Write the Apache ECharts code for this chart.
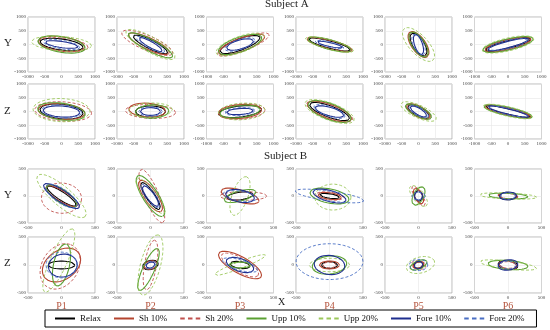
<!DOCTYPE html>
<html><head><meta charset="utf-8">
<script src="https://cdn.jsdelivr.net/npm/echarts@6/dist/echarts.min.js"></script>
<style>html,body{margin:0;padding:0;background:#fff}#c{width:550px;height:330px}</style>
</head><body><div id="c"></div>
<script>
// Ellipse parameters per panel: [cx, cy, semiMajor, semiMinor, angleDeg]
// Panel order: Subject A Y (P1..P6), Subject A Z (P1..P6), Subject B Y (P1..P6), Subject B Z (P1..P6)
const seriesNames = ['Relax','Sh 10%','Sh 20%','Upp 10%','Upp 20%','Fore 10%','Fore 20%'];
const panelLabels = ['P1','P2','P3','P4','P5','P6'];
const rowLabels = ['Y','Z','Y','Z'];
const ticksA = [-1000,-500,0,500,1000];
const ticksB = [-500,0,500];

const relax = [
 [0,0,650,200,-10],[0,0,600,150,-32],[0,0,650,200,25],[0,0,650,130,-18],[0,0,450,180,-65],[0,0,700,140,17],
 [0,0,650,260,-8],[0,0,450,200,0],[0,0,650,200,8],[0,0,650,200,-25],[0,0,380,150,-35],[0,0,700,100,-16],
 [0,0,280,70,-40],[0,0,280,70,-62],[0,0,200,70,10],[0,0,150,40,-10],[0,0,100,60,90],[0,0,130,70,0],
 [0,0,200,70,0],[0,0,120,80,20],[0,0,150,60,-10],[0,0,120,60,0],[0,0,80,60,0],[0,0,150,80,-10]
];
const sh10 = [
 [0,20,700,260,-10],[-50,30,700,200,-30],[50,0,750,230,25],[0,0,700,160,-18],[0,0,520,220,-62],[0,0,720,180,17],
 [0,0,700,280,-6],[-100,50,550,250,-5],[0,0,650,250,6],[0,0,720,250,-25],[0,0,420,180,-35],[0,0,720,130,-16],
 [0,0,300,90,-38],[0,0,330,100,-62],[0,0,300,110,-20],[0,0,180,60,-10],[0,0,150,60,-70],[0,0,150,50,-5],
 [0,0,340,240,50],[0,0,100,70,20],[0,0,380,140,-35],[0,0,150,70,0],[0,0,90,50,30],[0,0,140,70,-15]
];
const sh20 = [
 [50,0,750,230,-8],[-100,60,850,260,-28],[100,0,850,220,26],[0,0,720,140,-17],[0,0,480,200,-65],[0,0,650,160,15],
 [50,0,850,350,-5],[0,0,750,250,-3],[50,0,700,280,6],[0,0,750,230,-24],[0,0,400,160,-33],[0,0,650,120,-15],
 [0,-40,300,280,-10],[20,0,520,110,-72],[50,0,350,80,0],[0,0,210,70,-8],[0,0,200,60,-65],[0,0,120,60,0],
 [-20,-25,420,280,70],[0,0,450,90,82],[0,0,330,120,-35],[0,0,100,50,0],[0,0,110,70,-20],[0,0,130,60,0]
];
const upp10 = [
 [0,0,720,280,-12],[0,-30,780,200,-33],[0,0,700,260,24],[0,0,680,170,-19],[0,0,500,200,-63],[0,0,780,200,16],
 [0,0,720,300,-10],[50,0,500,240,3],[0,0,600,220,8],[0,0,700,280,-26],[0,0,450,170,-32],[0,0,750,150,-15],
 [0,0,290,110,-42],[0,0,420,120,-64],[0,0,250,90,20],[0,0,300,130,-15],[0,0,180,80,70],[0,0,300,50,-3],
 [0,0,380,120,80],[-30,-80,400,90,70],[0,0,170,50,0],[0,0,260,160,10],[0,0,140,70,30],[0,0,300,80,-5]
];
const upp20 = [
 [0,30,900,260,-5],[0,0,880,260,-35],[0,0,780,280,25],[0,0,750,170,-18],[0,0,720,300,-55],[0,0,800,230,16],
 [0,50,850,420,-3],[0,50,650,260,2],[50,0,700,300,5],[0,0,800,300,-25],[0,0,600,220,-30],[0,0,760,170,-16],
 [0,0,520,160,-48],[0,0,380,100,-58],[0,0,370,120,75],[50,-20,270,240,0],[0,0,220,90,-60],[0,0,430,55,-3],
 [-40,80,600,130,70],[0,0,550,150,78],[0,0,420,60,25],[0,0,300,120,0],[30,0,220,140,20],[0,0,430,70,-8]
];
const fore10 = [
 [0,0,500,110,-10],[0,0,420,100,-35],[0,0,420,160,20],[0,0,400,70,-15],[0,0,380,120,-75],[0,0,650,110,18],
 [0,0,550,200,-5],[0,0,300,140,0],[0,0,400,110,5],[0,0,450,150,-20],[0,0,300,110,-38],[0,0,650,90,-17],
 [0,0,340,100,-40],[0,0,220,60,-60],[0,0,220,110,-15],[0,0,260,100,-20],[0,0,80,60,90],[0,0,130,70,5],
 [20,-10,220,200,30],[0,0,70,50,30],[0,0,220,110,-25],[0,0,230,170,-10],[0,0,70,60,60],[0,0,150,90,10]
];
const fore20 = [
 [0,0,560,150,-12],[0,0,500,140,-33],[0,0,480,180,22],[0,0,450,90,-16],[0,0,400,160,-70],[0,0,600,150,15],
 [0,0,600,240,-4],[0,0,350,170,0],[0,0,450,140,5],[0,0,500,180,-22],[0,0,350,140,-35],[0,0,600,120,-15],
 [0,0,300,120,-42],[0,0,250,80,-60],[0,0,260,90,-10],[0,0,520,90,-10],[0,0,100,70,0],[0,0,110,60,0],
 [0,0,230,230,0],[0,0,90,60,30],[0,0,280,90,-20],[0,60,500,320,0],[0,0,140,100,0],[0,0,120,70,0]
];

const seriesData = [relax, sh10, sh20, upp10, upp20, fore10, fore20];
const colors = ['#000000','#b5452f','#c0504d','#5aa032','#9bc75a','#1f2f8f','#4a6fc4'];
const dashed = [false,false,true,false,true,false,true];

const FONT = 'Liberation Serif';
const lefts = [28,117,206.5,296,385,474.5];
const PW = 67;
const tops = [17,84,169,237];
const heights = [55,55,54,56];

function ellipse(p){
  const [cx,cy,a,b,ang] = p;
  const th = ang*Math.PI/180, pts=[];
  for(let i=0;i<=72;i++){
    const t = i*5*Math.PI/180;
    pts.push([cx + a*Math.cos(th)*Math.cos(t) - b*Math.sin(th)*Math.sin(t),
              cy + a*Math.sin(th)*Math.cos(t) + b*Math.cos(th)*Math.sin(t)]);
  }
  return pts;
}

const grids=[], xAxes=[], yAxes=[], series=[];
for(let r=0;r<4;r++){
  const isA = r<2;
  const lim = isA?1000:500;
  for(let c=0;c<6;c++){
    const gi = r*6+c;
    grids.push({left:lefts[c], top:tops[r], width:PW, height:heights[r], show:true,
      borderColor:'#a8a8a8', borderWidth:0.8, containLabel:false});
    const lab = {fontSize:5, margin:2, color:'#444', fontFamily:FONT, formatter:v=>String(v)};
    const xa = {type:'value', gridIndex:gi, min:-lim, max:lim, interval:500,
      axisLine:{show:false}, axisTick:{show:false}, axisLabel:lab,
      splitLine:{show:true, lineStyle:{color:'#e6e6e6', width:0.6}}};
    if(r===3){
      xa.name = panelLabels[c]; xa.nameLocation='middle'; xa.nameGap=8;
      xa.nameTextStyle = {fontSize:10, color:'#b5533c', fontFamily:FONT};
    }
    xAxes.push(xa);
    yAxes.push({type:'value', gridIndex:gi, min:-lim, max:lim, interval:500,
      axisLine:{show:false}, axisTick:{show:false}, axisLabel:lab,
      splitLine:{show:true, lineStyle:{color:'#e6e6e6', width:0.6}}});
    for(let s=0;s<7;s++){
      series.push({type:'line', name:seriesNames[s], xAxisIndex:gi, yAxisIndex:gi,
        data: ellipse(seriesData[s][gi]), showSymbol:false, symbol:'none', clip:false,
        silent:true, animation:false, color:colors[s],
        lineStyle:{color:colors[s], width:dashed[s]?0.9:1.1, type:dashed[s]?[3,2]:'solid'}});
    }
  }
}

const solidIcon = 'path://M0,0h20v1.2h-20z';
const dashIcon = 'path://M0,0h4.5v1.2h-4.5z M7.75,0h4.5v1.2h-4.5z M15.5,0h4.5v1.2h-4.5z';
const legendData = seriesNames.map((n,i)=>({name:n, icon: dashed[i]?dashIcon:solidIcon,
  itemStyle:{color:colors[i]}}));

const graphic = [];
const rowMid = [44,112,196,264];
rowLabels.forEach((t,i)=>graphic.push({type:'text', left:4, top:rowMid[i]-6,
  style:{text:t, fontSize:11, fontFamily:FONT, fill:'#222'}}));
graphic.push({type:'text', left:278, top:297, style:{text:'X', fontSize:10, fontFamily:FONT, fill:'#222'}});

const chart = echarts.init(document.getElementById('c'), null, {renderer:'canvas'});
chart.setOption({
  animation:false,
  title:[
    {text:'Subject A', left:265, top:-1, padding:0, textStyle:{fontSize:11, fontWeight:'normal', fontFamily:FONT, color:'#222'}},
    {text:'Subject B', left:264, top:151, padding:0, textStyle:{fontSize:11, fontWeight:'normal', fontFamily:FONT, color:'#222'}}
  ],
  grid:grids, xAxis:xAxes, yAxis:yAxes, series:series, graphic:graphic,
  legend:{data:legendData, left:45, top:310, orient:'horizontal',
    padding:[4,12,4,10], itemGap:13, itemWidth:20, itemHeight:2, symbolKeepAspect:false,
    borderColor:'#000', borderWidth:1,
    textStyle:{fontSize:9, fontFamily:FONT, color:'#111'}, selectedMode:false}
});
</script></body></html>
